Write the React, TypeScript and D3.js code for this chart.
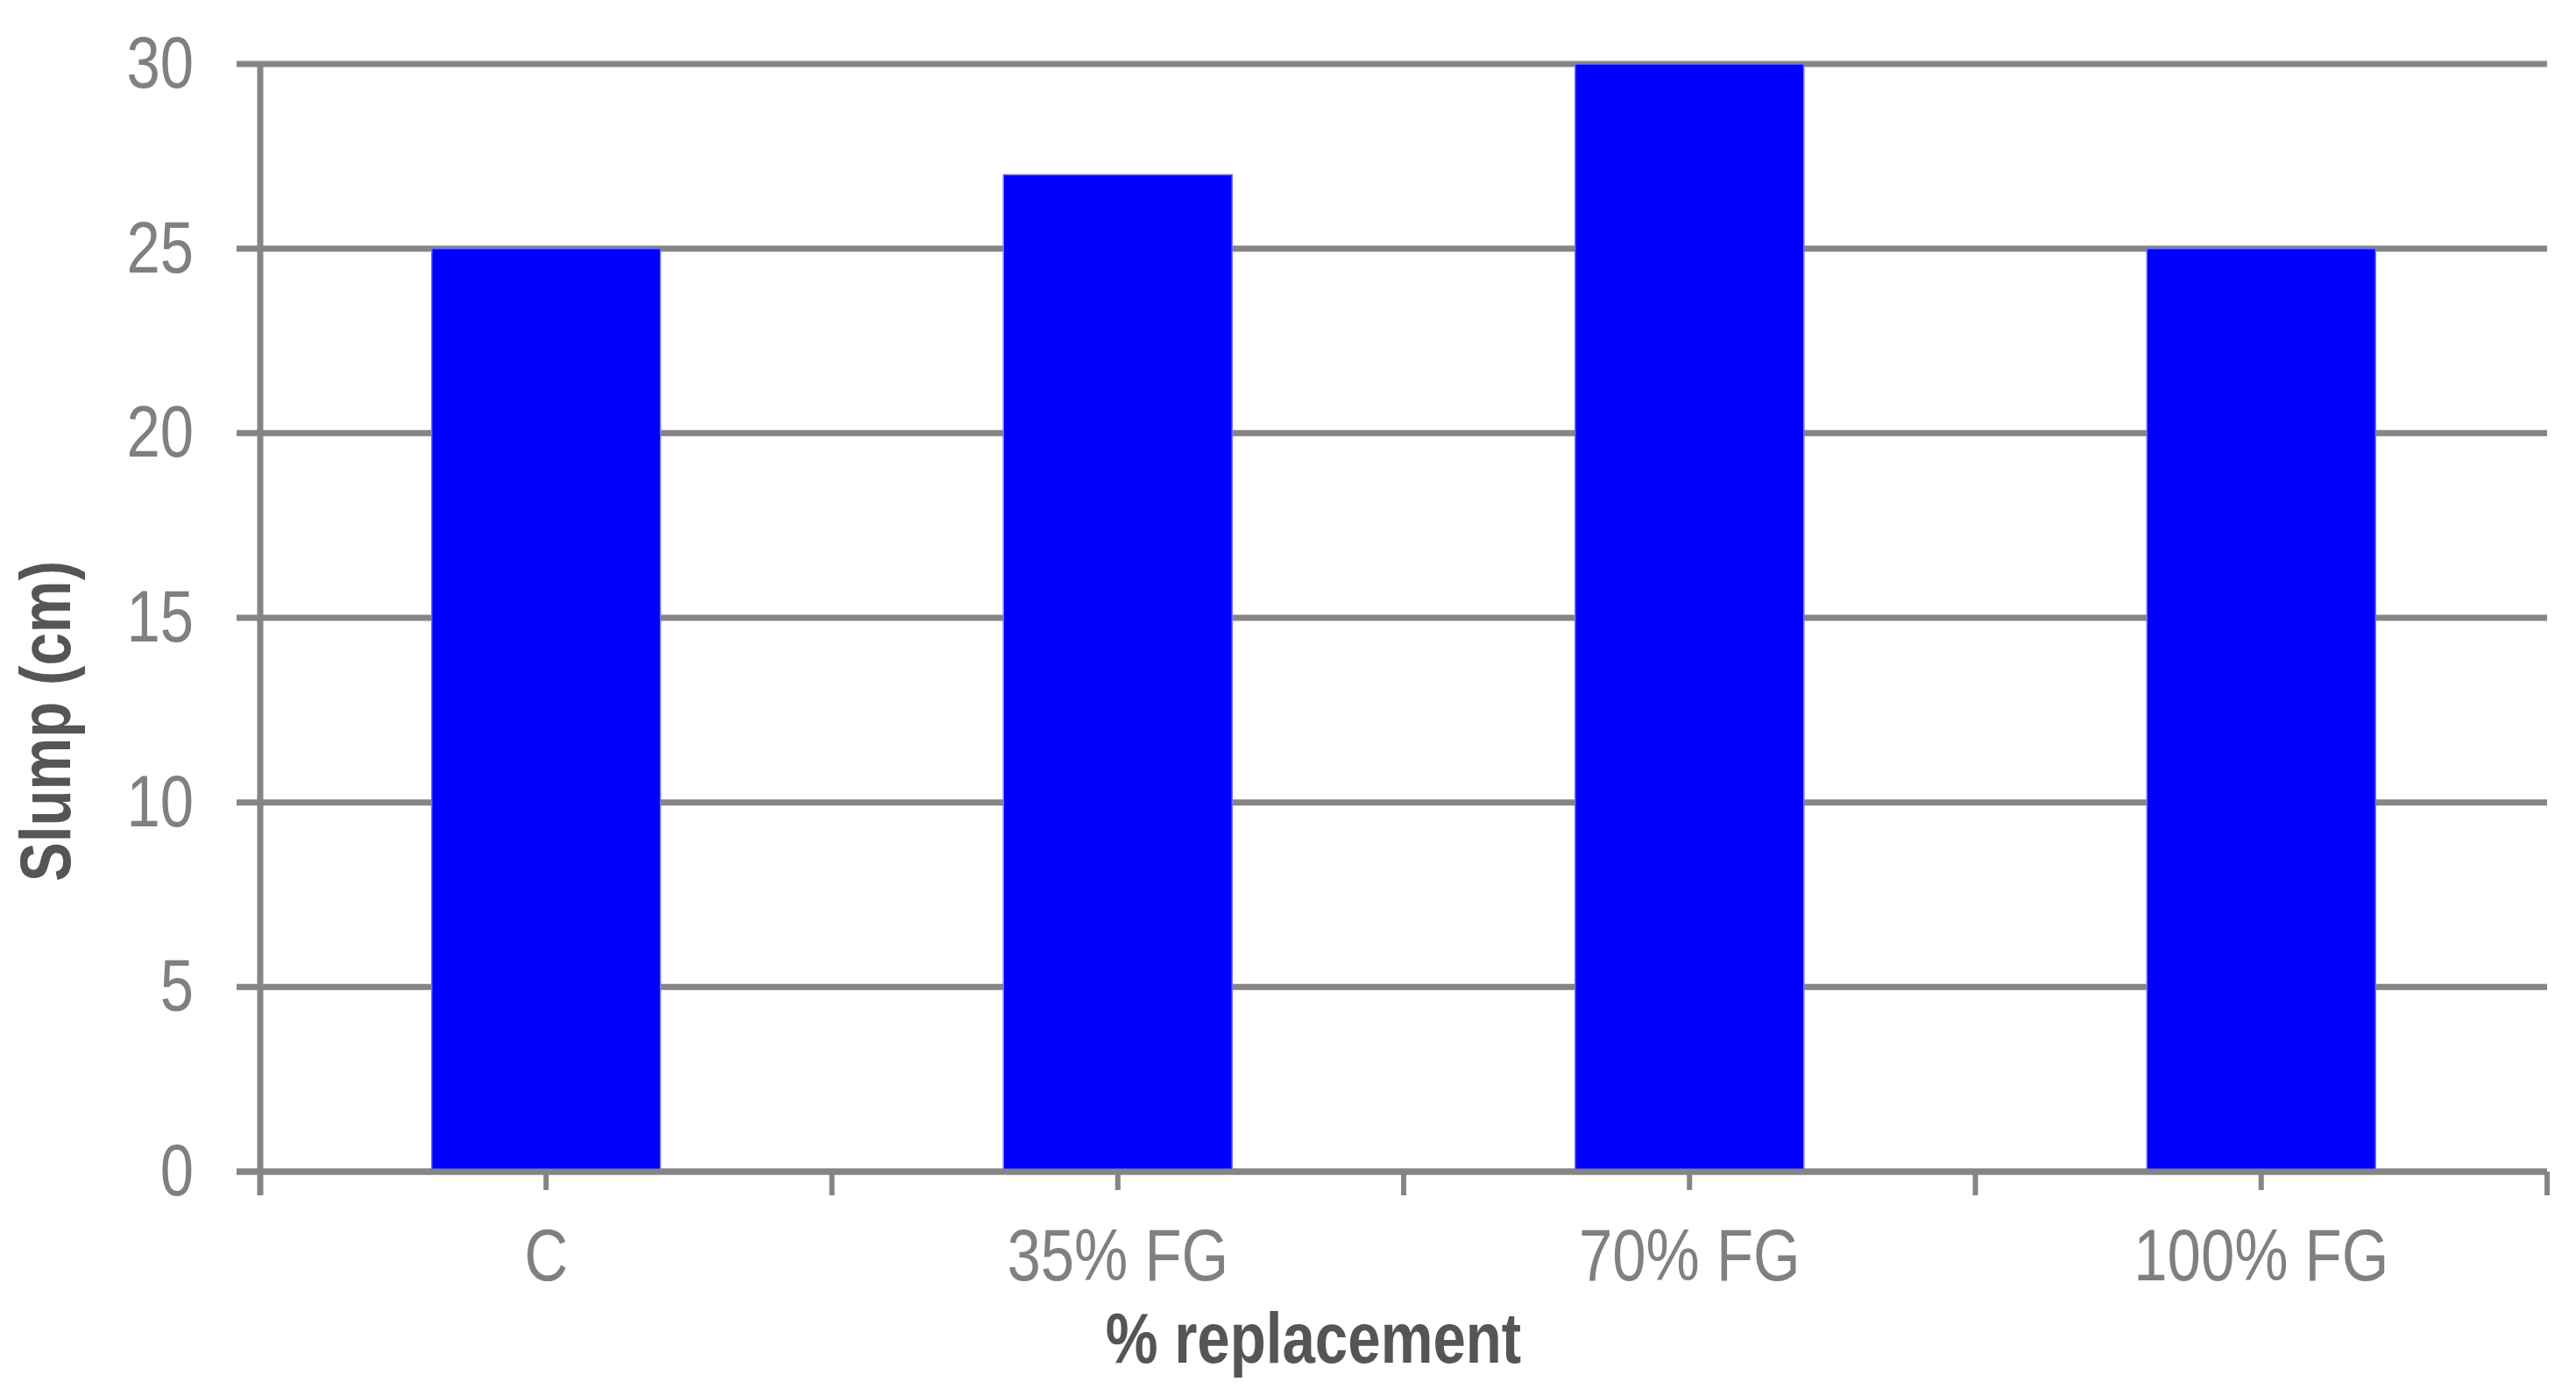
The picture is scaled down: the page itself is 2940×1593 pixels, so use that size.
import React from "react";
import * as d3 from "d3";

const categories = ["C", "35% FG", "70% FG", "100% FG"];
const slumpValues = [25, 27, 30, 25];
const yTicks = [0, 5, 10, 15, 20, 25, 30];
const xTitle = "% replacement";
const yTitle = "Slump (cm)";

const W = 2940;
const H = 1593;
const left = 297;
const right = 2907;
const top = 73;
const bottom = 1337;
const FONT = "'Liberation Sans', Arial, Helvetica, sans-serif";
const SQ = 0.82;
const GRID = "#858585";
const LABEL = "#808080";
const TITLE = "#555555";

export default function App() {
  const y = d3.scaleLinear().domain([0, 30]).range([bottom, top]);
  const x = d3
    .scaleBand<string>()
    .domain(categories)
    .range([left, right])
    .paddingInner(0.6)
    .paddingOuter(0.3);
  const step = x.step();
  const boundaries = d3.range(categories.length + 1).map((i) => left + i * step);

  return (
    <svg
      width={W}
      height={H}
      style={{ position: "absolute", left: 0, top: 0, background: "#fff" }}
    >
      <rect x={0} y={0} width={W} height={H} fill="#fff" />
      {/* gridlines + left ticks */}
      {yTicks.map((t) => (
        <line
          key={"g" + t}
          x1={270}
          x2={right}
          y1={y(t)}
          y2={y(t)}
          stroke={GRID}
          strokeWidth={7}
        />
      ))}
      {/* bars */}
      {categories.map((c, i) => (
        <rect
          key={"b" + c}
          x={x(c)!}
          y={y(slumpValues[i])}
          width={x.bandwidth()}
          height={y(0) - y(slumpValues[i])}
          fill="#0000ff"
          stroke="#7070ff"
          strokeWidth={1.5}
        />
      ))}
      {/* x axis line */}
      <line x1={270} x2={right} y1={y(0)} y2={y(0)} stroke={GRID} strokeWidth={7} />
      {/* y axis line */}
      <line x1={left} x2={left} y1={top} y2={1364} stroke={GRID} strokeWidth={7} />
      {/* boundary ticks */}
      {boundaries.map((b, i) => (
        <line
          key={"bt" + i}
          x1={b}
          x2={b}
          y1={y(0)}
          y2={1364}
          stroke={GRID}
          strokeWidth={6}
        />
      ))}
      {/* category center ticks */}
      {categories.map((c) => (
        <line
          key={"ct" + c}
          x1={x(c)! + x.bandwidth() / 2}
          x2={x(c)! + x.bandwidth() / 2}
          y1={y(0)}
          y2={1358}
          stroke={GRID}
          strokeWidth={6}
        />
      ))}
      {/* y tick labels */}
      {yTicks.map((t) => (
        <text
          key={"yl" + t}
          transform={`translate(221,${y(t) + 27}) scale(${SQ},1)`}
          textAnchor="end"
          fontFamily={FONT}
          fontSize={84}
          fill={LABEL}
        >
          {t}
        </text>
      ))}
      {/* x tick labels */}
      {categories.map((c) => (
        <text
          key={"xl" + c}
          transform={`translate(${x(c)! + x.bandwidth() / 2},1461) scale(${SQ},1)`}
          textAnchor="middle"
          fontFamily={FONT}
          fontSize={84}
          fill={LABEL}
        >
          {c}
        </text>
      ))}
      {/* x title */}
      <text
        transform={`translate(1499,1555) scale(${SQ},1)`}
        textAnchor="middle"
        fontFamily={FONT}
        fontWeight="bold"
        fontSize={82}
        fill={TITLE}
      >
        {xTitle}
      </text>
      {/* y title */}
      <text
        transform={`translate(80,823) rotate(-90) scale(${SQ},1)`}
        textAnchor="middle"
        fontFamily={FONT}
        fontWeight="bold"
        fontSize={82}
        fill={TITLE}
      >
        {yTitle}
      </text>
    </svg>
  );
}
